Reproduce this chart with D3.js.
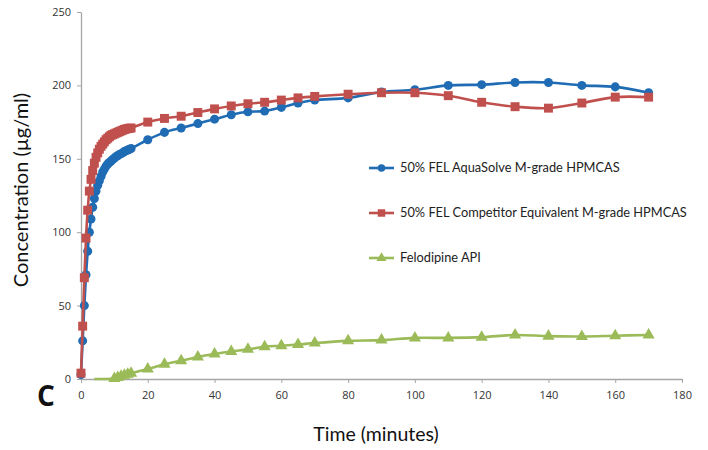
<!DOCTYPE html>
<html><head><meta charset="utf-8">
<script src="https://cdn.jsdelivr.net/npm/d3@7"></script>
<style>html,body{margin:0;padding:0;background:#fff;}svg{display:block;}</style>
</head><body><svg id="c" width="708" height="450"></svg>
<script>
// ---- data ----
const denseTimes = [0,0.5,1,1.5,2,2.5,3,3.5,4,4.5,5,5.5,6,6.5,7,7.5,8,8.5,9,9.5,10,10.5,11,11.5,12,12.5,13,13.5,14,14.5,15];
const laterTimes = [20,25,30,35,40,45,50,55,60,65,70,80,90,100,110,120,130,140,150,160,170];
const aquaDense = [3,26,50,71,87,100,109,117,123,128,132,135,138,141,143,145,146.5,147.5,148.5,149.5,150.5,151.5,152,153,153.5,154,155,155.5,156,156.5,157];
const aquaLater = [163,168,171,174,177,180,182,182.5,185,188,190,191.5,195.5,197,200,200.5,202,202,200,199,195];
const compDense = [4,36,69,96,115,128,136,142,147,151,154,156.5,158.5,160,161.5,163,164,165,166,166.5,167,167.5,168,168.5,169,169.5,170,170.3,170.6,170.8,171];
const compLater = [175,177.5,179,181.5,184,186,187.5,188.5,190,191.5,192.5,194,195,195,193,188.5,185.5,184.5,188,192,192];
const apiLeadTime = [4];
const apiLeadValue = [0];
const apiDenseTimes = [10,11,12,13,14,15];
const apiDense = [0.3,1,1.8,2.5,3.2,3.9];
const apiLater = [6.8,10,12.5,15,17,18.7,20.2,22,22.7,23.5,24.5,26,26.5,28,28,28.5,30,29.2,29,29.5,30];
const xTicks = [0,20,40,60,80,100,120,140,160,180];
const yTicks = [0,50,100,150,200,250];
const seriesNames = ["50% FEL AquaSolve M-grade HPMCAS","50% FEL Competitor Equivalent M-grade HPMCAS","Felodipine API"];
const seriesColors = ["#1f6cb5","#c0504d","#9bbb59"];
const seriesShapes = ["circle","square","triangle"];

// ---- build ----
const zip = (t,v)=>t.map((x,i)=>({t:x,v:v[i]}));
const series = [
  {name:seriesNames[0], color:seriesColors[0], shape:seriesShapes[0],
   line: zip(denseTimes.concat(laterTimes), aquaDense.concat(aquaLater))},
  {name:seriesNames[1], color:seriesColors[1], shape:seriesShapes[1],
   line: zip(denseTimes.concat(laterTimes), compDense.concat(compLater))},
  {name:seriesNames[2], color:seriesColors[2], shape:seriesShapes[2],
   line: zip(apiLeadTime.concat(apiDenseTimes, laterTimes), apiLeadValue.concat(apiDense, apiLater)),
   markerSkip: apiLeadTime.length}
];
series.forEach(s=>{ s.markers = s.line.slice(s.markerSkip||0); });

const svg = d3.select("#c");
const x = d3.scaleLinear().domain([0,180]).range([81,682]);
const y = d3.scaleLinear().domain([0,250]).range([379,12]);
const axisColor = "#a6a6a6";
const font = "Lato, 'Open Sans', sans-serif";

// axes
const gx = svg.append("g").attr("transform","translate(0,379)")
  .call(d3.axisBottom(x).tickValues(xTicks).tickSize(4).tickSizeOuter(0).tickPadding(6));
const gy = svg.append("g").attr("transform","translate(81,0)")
  .call(d3.axisLeft(y).tickValues(yTicks).tickSize(4).tickSizeOuter(0).tickPadding(6));
[gx,gy].forEach(g=>{
  g.select(".domain").attr("stroke",axisColor).attr("stroke-width",1.3);
  g.selectAll(".tick line").attr("stroke",axisColor);
  g.selectAll(".tick text").attr("fill","#333").style("font-family","'Open Sans', sans-serif").style("font-size","11px");
});
gx.selectAll(".tick text").attr("dy","0.9em");

// lines
const line = d3.line().x(d=>x(d.t)).y(d=>y(d.v)).curve(d3.curveCatmullRom.alpha(0.5));
const sym = {circle:d3.symbolCircle, square:d3.symbolSquare, triangle:d3.symbolTriangle};
const size = {circle:64, square:80, triangle:64};

series.forEach(s=>{
  svg.append("path").datum(s.line).attr("d",line).attr("fill","none")
    .attr("stroke",s.color).attr("stroke-width",2.6).attr("stroke-linejoin","round");
  svg.append("g").selectAll("path").data(s.markers).join("path")
    .attr("transform",d=>`translate(${x(d.t)},${y(d.v)})`)
    .attr("d",d3.symbol(sym[s.shape], size[s.shape])).attr("fill",s.color);
});

// legend
const legY = [168,213,258];
series.forEach((s,i)=>{
  const g = svg.append("g").attr("transform",`translate(369,${legY[i]})`);
  g.append("line").attr("x1",0).attr("x2",25).attr("stroke",s.color).attr("stroke-width",2.6);
  g.append("path").attr("transform","translate(12.5,0)")
    .attr("d",d3.symbol(sym[s.shape], size[s.shape]*0.7)).attr("fill",s.color);
  g.append("text").attr("x",31).attr("y",0).attr("dy","0.35em").text(s.name)
    .style("font-family",font).style("font-size","12.8px").attr("fill","#222");
});

// titles
svg.append("text").attr("x",376).attr("y",441).attr("text-anchor","middle")
  .style("font-family",font).style("font-size","19.5px").attr("fill","#111").text("Time (minutes)");
svg.append("text").attr("transform","translate(28,190) rotate(-90)").attr("text-anchor","middle")
  .style("font-family",font).style("font-size","20px").attr("fill","#111").text("Concentration (µg/ml)");
svg.append("text").attr("x",46).attr("y",406).attr("text-anchor","middle")
  .style("font-family","'Open Sans', sans-serif").style("font-weight","bold").style("font-size","28px").attr("fill","#111").text("C");
</script></body></html>
